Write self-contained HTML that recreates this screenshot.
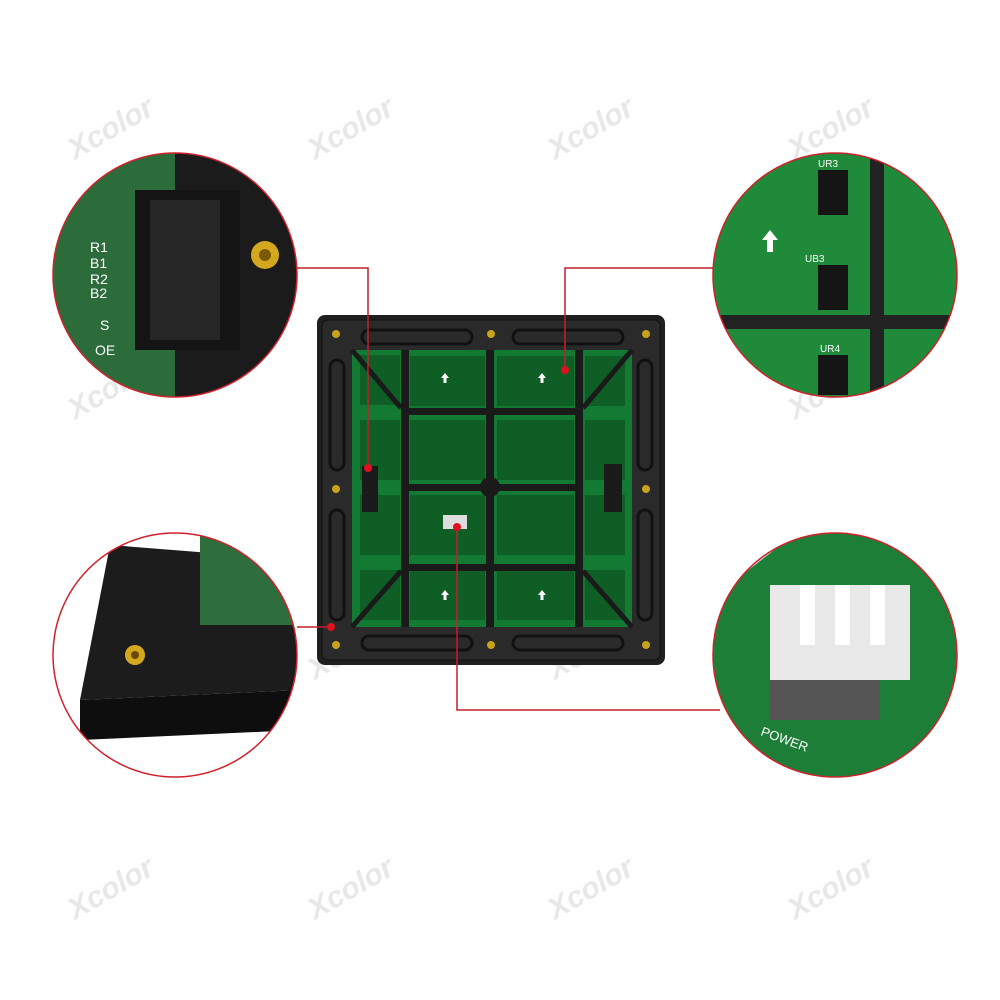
<!DOCTYPE html>
<html><head><style>
html,body{margin:0;padding:0;background:#fff;width:1000px;height:1000px;overflow:hidden}
</style></head><body>
<svg width="1000" height="1000" viewBox="0 0 1000 1000" xmlns="http://www.w3.org/2000/svg" font-family="Liberation Sans, sans-serif">
<defs>
<clipPath id="c1"><circle cx="175" cy="275" r="122"/></clipPath>
<clipPath id="c2"><circle cx="835" cy="275" r="122"/></clipPath>
<clipPath id="c3"><circle cx="175" cy="655" r="122"/></clipPath>
<clipPath id="c4"><circle cx="835" cy="655" r="122"/></clipPath>
</defs>
<!-- watermarks -->
<g fill="#e8e8e8" font-weight="bold" font-size="30" font-style="italic">
<g transform="translate(75,160) rotate(-30)"><text>Xcolor</text></g>
<g transform="translate(315,160) rotate(-30)"><text>Xcolor</text></g>
<g transform="translate(555,160) rotate(-30)"><text>Xcolor</text></g>
<g transform="translate(795,160) rotate(-30)"><text>Xcolor</text></g>
<g transform="translate(75,420) rotate(-30)"><text>Xcolor</text></g>
<g transform="translate(795,420) rotate(-30)"><text>Xcolor</text></g>
<g transform="translate(75,680) rotate(-30)"><text>Xcolor</text></g>
<g transform="translate(315,680) rotate(-30)"><text>Xcolor</text></g>
<g transform="translate(555,680) rotate(-30)"><text>Xcolor</text></g>
<g transform="translate(75,920) rotate(-30)"><text>Xcolor</text></g>
<g transform="translate(315,920) rotate(-30)"><text>Xcolor</text></g>
<g transform="translate(555,920) rotate(-30)"><text>Xcolor</text></g>
<g transform="translate(795,920) rotate(-30)"><text>Xcolor</text></g>
</g>
<!-- panel -->
<rect x="317" y="315" width="348" height="350" rx="8" fill="#1f1f1f"/>
<rect x="322" y="320" width="338" height="340" rx="6" fill="#2a2a2a" stroke="#111"/>
<rect x="352" y="350" width="280" height="277" fill="#127a33"/>
<g fill="#0e5e26">
<rect x="360" y="355" width="40" height="50"/><rect x="410" y="356" width="75" height="50"/><rect x="497" y="356" width="77" height="50"/><rect x="585" y="356" width="40" height="50"/>
<rect x="360" y="420" width="40" height="60"/><rect x="410" y="420" width="75" height="60"/><rect x="497" y="420" width="77" height="60"/><rect x="585" y="420" width="40" height="60"/>
<rect x="360" y="495" width="40" height="60"/><rect x="410" y="495" width="75" height="60"/><rect x="497" y="495" width="77" height="60"/><rect x="585" y="495" width="40" height="60"/>
<rect x="360" y="570" width="40" height="50"/><rect x="410" y="570" width="75" height="50"/><rect x="497" y="570" width="77" height="50"/><rect x="585" y="570" width="40" height="50"/>
</g>
<g fill="#1a1a1a">
<rect x="401" y="350" width="8" height="277"/><rect x="486" y="350" width="8" height="277"/><rect x="575" y="350" width="8" height="277"/>
<rect x="401" y="408" width="182" height="7"/><rect x="401" y="484" width="182" height="7"/><rect x="401" y="564" width="182" height="7"/>
<circle cx="490" cy="487" r="10"/>
<rect x="362" y="466" width="16" height="46"/><rect x="604" y="464" width="18" height="48"/>
</g>
<g stroke="#1a1a1a" stroke-width="5"><line x1="352" y1="350" x2="401" y2="408"/><line x1="632" y1="350" x2="583" y2="408"/><line x1="352" y1="627" x2="401" y2="571"/><line x1="632" y1="627" x2="583" y2="571"/></g>
<g fill="none" stroke="#111" stroke-width="3">
<rect x="362" y="330" width="110" height="14" rx="7"/><rect x="513" y="330" width="110" height="14" rx="7"/>
<rect x="362" y="636" width="110" height="14" rx="7"/><rect x="513" y="636" width="110" height="14" rx="7"/>
<rect x="330" y="360" width="14" height="110" rx="7"/><rect x="330" y="510" width="14" height="110" rx="7"/>
<rect x="638" y="360" width="14" height="110" rx="7"/><rect x="638" y="510" width="14" height="110" rx="7"/>
</g>
<g fill="#c9a21c"><circle cx="336" cy="334" r="4"/><circle cx="491" cy="334" r="4"/><circle cx="646" cy="334" r="4"/><circle cx="336" cy="489" r="4"/><circle cx="646" cy="489" r="4"/><circle cx="336" cy="645" r="4"/><circle cx="491" cy="645" r="4"/><circle cx="646" cy="645" r="4"/></g>
<rect x="443" y="515" width="24" height="14" fill="#ddd"/>
<g fill="#fff"><path d="M441 378l4-5 4 5h-2.5v5h-3v-5z"/><path d="M538 378l4-5 4 5h-2.5v5h-3v-5z"/><path d="M441 595l4-5 4 5h-2.5v5h-3v-5z"/><path d="M538 595l4-5 4 5h-2.5v5h-3v-5z"/></g>
<!-- circles -->
<g clip-path="url(#c1)"><rect x="50" y="150" width="250" height="250" fill="#2c6b3a"/><rect x="175" y="150" width="125" height="250" fill="#1b1b1b"/><rect x="135" y="190" width="105" height="160" fill="#141414"/><rect x="150" y="200" width="70" height="140" fill="#262626"/><circle cx="265" cy="255" r="14" fill="#d4a81e"/><circle cx="265" cy="255" r="6" fill="#7a5a00"/>
<g fill="#fff" font-size="14"><text x="90" y="252">R1</text><text x="90" y="268">B1</text><text x="90" y="284">R2</text><text x="90" y="298">B2</text><text x="100" y="330">S</text><text x="95" y="355">OE</text></g></g>
<circle cx="175" cy="275" r="122" fill="none" stroke="#d0202a" stroke-width="1.5"/>
<g clip-path="url(#c2)"><rect x="710" y="150" width="250" height="250" fill="#1f8a3a"/><rect x="710" y="315" width="250" height="14" fill="#222"/><rect x="870" y="150" width="14" height="250" fill="#222"/><rect x="818" y="170" width="30" height="45" fill="#151515"/><rect x="818" y="265" width="30" height="45" fill="#151515"/><rect x="818" y="355" width="30" height="40" fill="#151515"/><path d="M762 240l8-10 8 10h-5v12h-6v-12z" fill="#fff"/>
<g fill="#fff" font-size="10"><text x="818" y="167">UR3</text><text x="805" y="262">UB3</text><text x="820" y="352">UR4</text></g></g>
<circle cx="835" cy="275" r="122" fill="none" stroke="#d0202a" stroke-width="1.5"/>
<g clip-path="url(#c3)"><rect x="50" y="530" width="250" height="250" fill="#fff"/><path d="M110 545L300 560V690L80 700Z" fill="#1c1c1c"/><path d="M80 700L300 690V730L80 740Z" fill="#0e0e0e"/><rect x="200" y="535" width="100" height="90" fill="#2d6e3c"/><circle cx="135" cy="655" r="10" fill="#d4a81e"/><circle cx="135" cy="655" r="4" fill="#6a4a00"/></g>
<circle cx="175" cy="655" r="122" fill="none" stroke="#d0202a" stroke-width="1.5"/>
<g clip-path="url(#c4)"><rect x="710" y="530" width="250" height="250" fill="#1d7f37"/><path d="M710 530H800L710 600Z" fill="#cfd8cf"/><rect x="770" y="585" width="140" height="95" fill="#e8e8e8"/><rect x="800" y="585" width="15" height="60" fill="#fff"/><rect x="835" y="585" width="15" height="60" fill="#fff"/><rect x="870" y="585" width="15" height="60" fill="#fff"/><rect x="770" y="680" width="110" height="40" fill="#555"/><text x="760" y="735" fill="#fff" font-size="13" transform="rotate(20 760 735)">POWER</text></g>
<circle cx="835" cy="655" r="122" fill="none" stroke="#d0202a" stroke-width="1.5"/>
<!-- connectors -->
<g stroke="#c41e2a" stroke-width="1.5" fill="none">
<polyline points="297,268 368,268 368,468"/>
<polyline points="713,268 565,268 565,370"/>
<polyline points="297,627 330,627"/>
<polyline points="720,710 457,710 457,527"/>
</g>
<g fill="#e0101e"><circle cx="368" cy="468" r="4"/><circle cx="565" cy="370" r="4"/><circle cx="331" cy="627" r="4"/><circle cx="457" cy="527" r="4"/></g>
</svg>
</body></html>
